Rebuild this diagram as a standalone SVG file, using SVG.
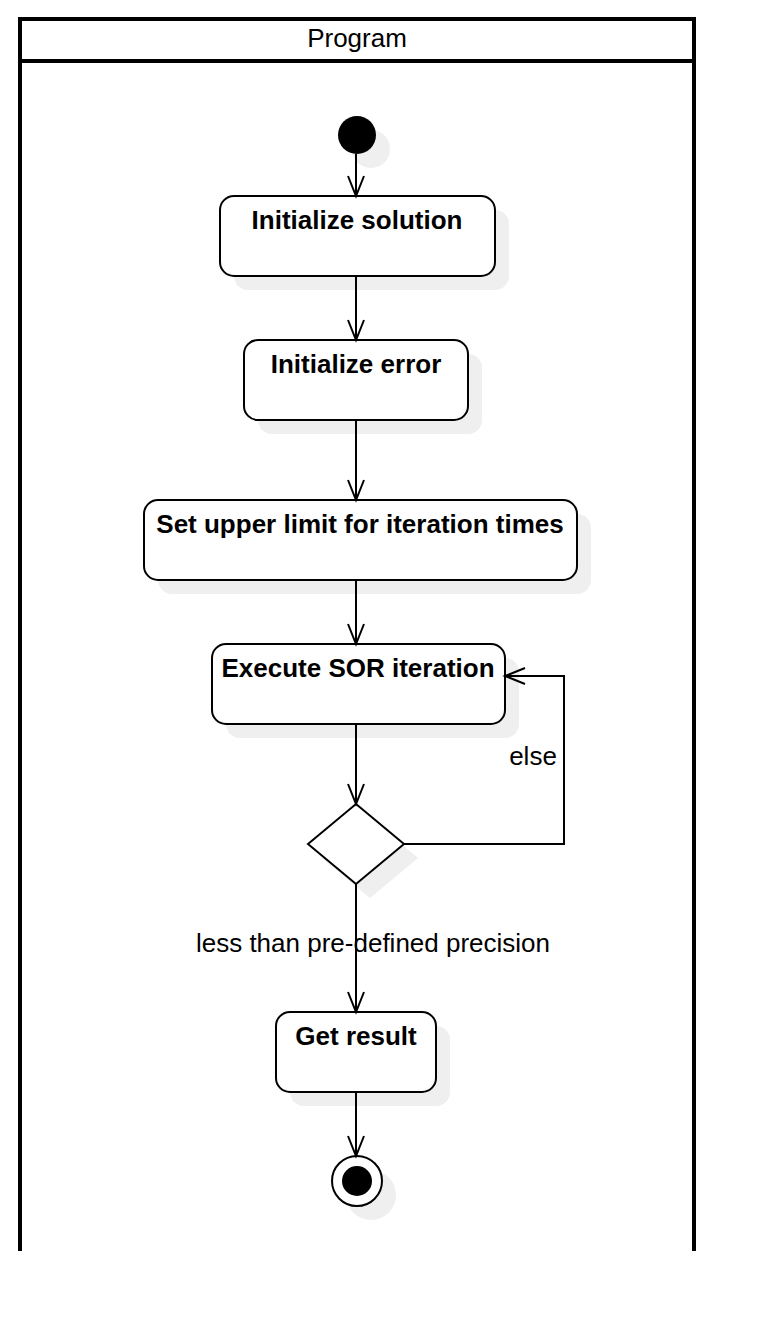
<svg xmlns="http://www.w3.org/2000/svg" width="774" height="1332" viewBox="0 0 774 1332">
<defs>
<style>
.pool{fill:none;stroke:#000;stroke-width:4}
.box{fill:#fff;stroke:#000;stroke-width:2}
.shadow{fill:#efefef;stroke:none}
.lbl{font-family:"Liberation Sans",Arial,sans-serif;font-size:26px;font-weight:bold;fill:#000;text-anchor:middle}
.txt{font-family:"Liberation Sans",Arial,sans-serif;font-size:26px;fill:#000;text-anchor:middle}
.edge{fill:none;stroke:#000;stroke-width:2}
</style>
<marker id="open" markerUnits="userSpaceOnUse" markerWidth="26" markerHeight="22" viewBox="-23 -11 26 22" refX="0" refY="0" orient="auto">
<path d="M-20,-8 L0,0 L-20,8" fill="none" stroke="#000" stroke-width="2"/>
</marker>
</defs>
<rect width="774" height="1332" fill="#fff"/>
<g id="pool">
<path class="pool" d="M20,1251 L20,19 L694,19 L694,1251"/>
<line class="pool" x1="20" y1="61" x2="694" y2="61"/>
<text class="txt" x="357" y="47">Program</text>
</g>
<g id="start">
<circle class="shadow" cx="371" cy="149" r="19"/>
<circle cx="357" cy="135" r="19" fill="#000"/>
</g>
<g id="init-solution">
<rect class="shadow" x="234" y="210" width="275" height="80" rx="14"/>
<rect class="box" x="220" y="196" width="275" height="80" rx="14"/>
<text class="lbl" x="357" y="229">Initialize solution</text>
</g>
<g id="init-error">
<rect class="shadow" x="258" y="354" width="224" height="80" rx="14"/>
<rect class="box" x="244" y="340" width="224" height="80" rx="14"/>
<text class="lbl" x="356" y="373">Initialize error</text>
</g>
<g id="set-limit">
<rect class="shadow" x="158" y="514" width="433" height="80" rx="14"/>
<rect class="box" x="144" y="500" width="433" height="80" rx="14"/>
<text class="lbl" x="360" y="533">Set upper limit for iteration times</text>
</g>
<g id="execute-sor">
<rect class="shadow" x="226" y="658" width="293" height="80" rx="14"/>
<rect class="box" x="212" y="644" width="293" height="80" rx="14"/>
<text class="lbl" x="358" y="677">Execute SOR iteration</text>
</g>
<g id="decision">
<polygon class="shadow" points="370,818 418,858 370,898 322,858"/>
<polygon class="box" points="356,804 404,844 356,884 308,844"/>
</g>
<g id="get-result">
<rect class="shadow" x="290" y="1026" width="160" height="80" rx="14"/>
<rect class="box" x="276" y="1012" width="160" height="80" rx="14"/>
<text class="lbl" x="356" y="1045">Get result</text>
</g>
<g id="end">
<circle class="shadow" cx="371" cy="1195" r="25"/>
<circle class="box" cx="357" cy="1181" r="25"/>
<circle cx="357" cy="1181" r="15" fill="#000"/>
</g>
<g id="connectors">
<line class="edge" x1="356" y1="154" x2="356" y2="196" marker-end="url(#open)"/>
<line class="edge" x1="356" y1="276" x2="356" y2="340" marker-end="url(#open)"/>
<line class="edge" x1="356" y1="420" x2="356" y2="500" marker-end="url(#open)"/>
<line class="edge" x1="356" y1="580" x2="356" y2="644" marker-end="url(#open)"/>
<line class="edge" x1="356" y1="724" x2="356" y2="804" marker-end="url(#open)"/>
<path class="edge" d="M404,844 L564,844 L564,676 L505,676" marker-end="url(#open)"/>
<text class="txt" x="533" y="765">else</text>
<line class="edge" x1="356" y1="884" x2="356" y2="1012" marker-end="url(#open)"/>
<text class="txt" x="373" y="952">less than pre-defined precision</text>
<line class="edge" x1="356" y1="1092" x2="356" y2="1156" marker-end="url(#open)"/>
</g>
</svg>
